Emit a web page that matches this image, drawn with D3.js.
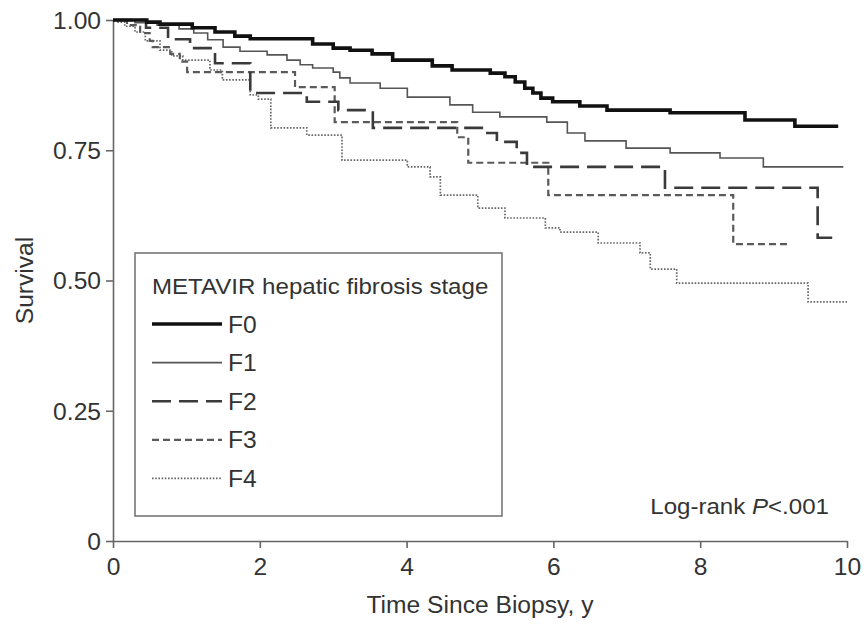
<!DOCTYPE html>
<html>
<head>
<meta charset="utf-8">
<script src="https://cdn.jsdelivr.net/npm/d3@7/dist/d3.min.js"></script>
<style>
  html, body { margin: 0; padding: 0; background: #fff; }
  svg { display: block; }
  text { font-family: "Liberation Sans", Arial, Helvetica, sans-serif; fill: #333; }
</style>
</head>
<body>
<svg id="chart" width="864" height="633"></svg>
<script>
// Kaplan-Meier survival by METAVIR hepatic fibrosis stage (time in years)
const stages = ["F0", "F1", "F2", "F3", "F4"];

const f0Time = [0, 0.46, 0.64, 1.08, 1.39, 1.66, 1.87, 2.72, 3.00, 3.23, 3.53, 3.81, 4.35, 4.62, 5.14, 5.34, 5.48, 5.61, 5.72, 5.83, 5.99, 6.36, 6.73, 7.59, 8.61, 9.29, 9.88];
const f0Surv = [1.000, 0.996, 0.992, 0.985, 0.977, 0.969, 0.964, 0.954, 0.946, 0.942, 0.935, 0.923, 0.912, 0.904, 0.898, 0.891, 0.881, 0.869, 0.860, 0.850, 0.843, 0.835, 0.827, 0.822, 0.808, 0.796, 0.796];

const f1Time = [0, 0.30, 0.60, 0.90, 1.10, 1.29, 1.50, 1.73, 2.10, 2.37, 2.55, 2.72, 3.00, 3.09, 3.23, 3.64, 4.01, 4.59, 4.90, 5.27, 5.91, 6.19, 6.43, 6.99, 7.59, 8.27, 8.86, 9.95];
const f1Surv = [1.000, 0.995, 0.990, 0.983, 0.975, 0.962, 0.948, 0.940, 0.933, 0.923, 0.914, 0.908, 0.900, 0.889, 0.879, 0.869, 0.852, 0.837, 0.823, 0.814, 0.804, 0.783, 0.768, 0.754, 0.745, 0.735, 0.718, 0.718];

const f2Time = [0, 0.45, 0.75, 1.05, 1.39, 1.87, 2.64, 3.07, 3.54, 5.10, 5.23, 5.50, 5.64, 7.52, 9.60, 9.84];
const f2Surv = [1.000, 0.985, 0.963, 0.946, 0.917, 0.860, 0.843, 0.827, 0.793, 0.783, 0.766, 0.745, 0.718, 0.678, 0.582, 0.582];

const f3Time = [0, 0.19, 0.37, 0.50, 0.54, 0.78, 0.91, 1.01, 2.48, 3.02, 4.69, 4.84, 5.93, 8.45, 9.20];
const f3Surv = [1.000, 0.990, 0.975, 0.960, 0.948, 0.935, 0.920, 0.900, 0.871, 0.804, 0.775, 0.726, 0.664, 0.570, 0.570];

const f4Time = [0, 0.07, 0.16, 0.30, 0.44, 0.64, 0.80, 0.95, 1.32, 1.49, 1.87, 1.98, 2.15, 2.64, 3.12, 4.01, 4.32, 4.46, 4.97, 5.34, 5.89, 6.09, 6.61, 7.18, 7.32, 7.68, 9.47, 10.0];
const f4Surv = [1.000, 0.996, 0.988, 0.977, 0.960, 0.942, 0.931, 0.923, 0.904, 0.885, 0.856, 0.848, 0.793, 0.779, 0.731, 0.718, 0.699, 0.664, 0.639, 0.620, 0.601, 0.593, 0.572, 0.553, 0.522, 0.495, 0.459, 0.459];

const xTicks = [0, 2, 4, 6, 8, 10];
const yTicks = [0, 0.25, 0.5, 0.75, 1];
const yTickLabels = ["0", "0.25", "0.50", "0.75", "1.00"];

const legendTitle = "METAVIR hepatic fibrosis stage";
const xTitle = "Time Since Biopsy, y";
const yTitle = "Survival";

// Line styles per stage
const styles = {
  F0: { color: "#111", width: 3.6, dash: null },
  F1: { color: "#555", width: 1.6, dash: null },
  F2: { color: "#3a3a3a", width: 2.6, dash: "19,8" },
  F3: { color: "#5a5a5a", width: 2.2, dash: "7,4" },
  F4: { color: "#666", width: 1.7, dash: "1.6,1.6" }
};

const series = [
  { name: "F0", t: f0Time, s: f0Surv },
  { name: "F1", t: f1Time, s: f1Surv },
  { name: "F2", t: f2Time, s: f2Surv },
  { name: "F3", t: f3Time, s: f3Surv },
  { name: "F4", t: f4Time, s: f4Surv }
];

const svg = d3.select("#chart");
const x = d3.scaleLinear().domain([0, 10]).range([113, 847]);
const y = d3.scaleLinear().domain([0, 1]).range([541, 20]);

const axisColor = "#666";
// the lettering is set slightly wide: widen each string by this factor
const widen = 1.07;
function stretch(sel) {
  sel.each(function () {
    const w = this.getComputedTextLength();
    d3.select(this).attr("textLength", w * widen).attr("lengthAdjust", "spacingAndGlyphs");
  });
}

// Axes
const gx = svg.append("g").attr("transform", `translate(0,${y(0)})`)
  .call(d3.axisBottom(x).tickValues(xTicks).tickSize(7).tickSizeOuter(0).tickFormat(d3.format("d")));
const gy = svg.append("g").attr("transform", `translate(${x(0)},0)`)
  .call(d3.axisLeft(y).tickValues(yTicks).tickSize(7).tickSizeOuter(0)
    .tickFormat((d, i) => yTickLabels[i]));

[gx, gy].forEach(g => {
  g.select(".domain").attr("stroke", axisColor).attr("stroke-width", 1.6);
  g.selectAll(".tick line").attr("stroke", axisColor).attr("stroke-width", 1.6);
  g.selectAll(".tick text").attr("font-size", 23).attr("fill", "#333")
    .attr("font-family", "'Liberation Sans', Arial, sans-serif");
});
gx.selectAll(".tick text").attr("dy", "1.05em").call(stretch);
gy.selectAll(".tick text").attr("x", -12).attr("dy", "0.36em").call(stretch);

// Axis titles
svg.append("text")
  .attr("x", (x(0) + x(10)) / 2).attr("y", 613)
  .attr("text-anchor", "middle").attr("font-size", 23)
  .text(xTitle).call(stretch);
svg.append("text")
  .attr("transform", `translate(33,${y(0.5)}) rotate(-90)`)
  .attr("text-anchor", "middle").attr("font-size", 23)
  .text(yTitle).call(stretch);

// Survival curves
const line = d3.line()
  .x(d => x(d[0]))
  .y(d => y(d[1]))
  .curve(d3.curveStepAfter);

const drawOrder = ["F4", "F3", "F2", "F1", "F0"];
drawOrder.forEach(name => {
  const sr = series.find(d => d.name === name);
  const st = styles[name];
  const pts = sr.t.map((t, i) => [t, sr.s[i]]);
  svg.append("path")
    .datum(pts)
    .attr("d", line)
    .attr("fill", "none")
    .attr("stroke", st.color)
    .attr("stroke-width", st.width)
    .attr("stroke-dasharray", st.dash)
    .attr("stroke-linejoin", "miter")
    .attr("stroke-linecap", "butt");
});

// Legend
const lg = svg.append("g");
lg.append("rect")
  .attr("x", 135).attr("y", 253).attr("width", 367).attr("height", 263)
  .attr("fill", "#fff").attr("stroke", "#777").attr("stroke-width", 1.6);
lg.append("text")
  .attr("x", 152).attr("y", 294).attr("font-size", 22.5)
  .text(legendTitle).call(stretch);
stages.forEach((name, i) => {
  const st = styles[name];
  const yy = 324 + i * 38.6;
  lg.append("line")
    .attr("x1", 152).attr("x2", 222).attr("y1", yy).attr("y2", yy)
    .attr("stroke", st.color).attr("stroke-width", st.width)
    .attr("stroke-dasharray", st.dash);
  lg.append("text")
    .attr("x", 228).attr("y", yy + 8.5).attr("font-size", 23)
    .text(name).call(stretch);
});

// Test statistic annotation
const ann = svg.append("text")
  .attr("x", 829).attr("y", 514).attr("text-anchor", "end").attr("font-size", 22.5);
ann.append("tspan").text("Log-rank ");
ann.append("tspan").attr("font-style", "italic").text("P");
ann.append("tspan").text("<.001");
ann.call(stretch);
</script>
</body>
</html>
